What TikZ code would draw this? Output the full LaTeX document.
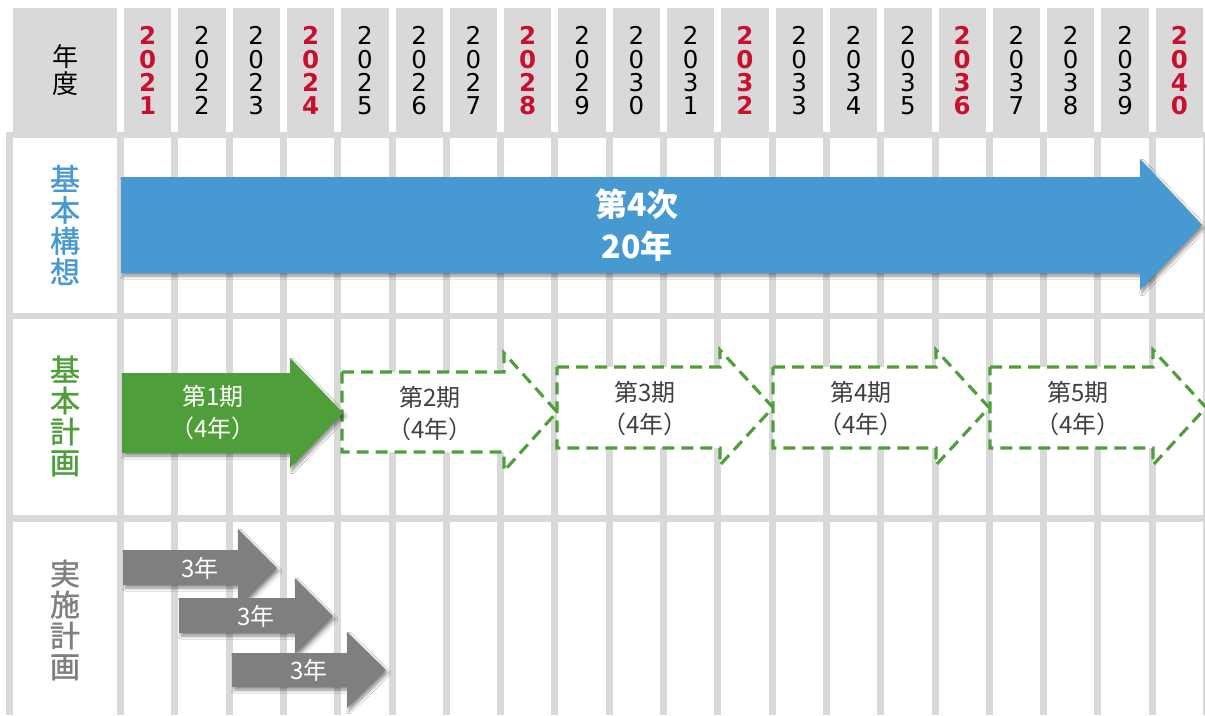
\documentclass[tikz,border=0pt]{standalone}
\usepackage{fontspec}
\setmainfont{Noto Sans CJK JP}
\newfontfamily\jpmed[FakeBold=1.2]{Noto Sans CJK JP}
\newfontfamily\digitfont{DejaVu Sans}
\usetikzlibrary{shadows.blur}
\definecolor{gridgray}{HTML}{D9D9D9}
\definecolor{planblue}{HTML}{4799D2}
\definecolor{plangreen}{HTML}{4E9F3A}
\definecolor{implgray}{HTML}{7F7F7F}
\definecolor{yearred}{HTML}{C8102E}
\definecolor{boxtext}{HTML}{404040}
\tikzset{
  cellfill/.style={fill=gridgray},
  whitecell/.style={fill=white},
  arrowshadow/.style={blur shadow={shadow xshift=2pt, shadow yshift=-3pt, shadow blur radius=3pt, shadow blur steps=8, shadow opacity=45}},
  dashedarrow/.style={draw=plangreen, line width=3.1pt, dash pattern=on 12pt off 7pt, fill=white, line join=miter},
  rowlabel/.style={font=\jpmed\fontsize{30}{31}\selectfont, align=center, inner sep=0pt},
  yeardigit/.style={anchor=base, inner sep=0pt, font=\digitfont\fontsize{24.5}{24.5}\selectfont\yweight},
  bigtext/.style={text=white, align=center, inner sep=0pt, font=\fontsize{32}{42}\selectfont\bfseries},
  phasetext/.style={align=center, inner sep=0pt, font=\fontsize{24}{32}\selectfont},
  yeartext/.style={text=white, inner sep=0pt, font=\fontsize{24}{24}\selectfont},
}
\begin{document}
\begin{tikzpicture}[x=1pt,y=-1pt]
\useasboundingbox (0,0) rectangle (1205,715);
\fill[white] (0,0) rectangle (1205,715);
% body grey background (grid lines)
\fill[cellfill] (6,132) rectangle (1205,715);
% header cells
\fill[cellfill] (13,8) rectangle (117,138);
\foreach \i in {0,...,19}
  \fill[cellfill] ({124+54.3*\i},8) rectangle ({171.3+54.3*\i},138);
% body white cells
\foreach \top/\bot in {138/312.5, 319/515, 522/716}{
  \fill[whitecell] (12.7,\top) rectangle (117,\bot);
  \foreach \i in {0,...,19}
    \fill[whitecell] ({124+54.3*\i},\top) rectangle ({171.3+54.3*\i},\bot);
}
% header texts
\node[font=\fontsize{26}{27}\selectfont, align=center, inner sep=0pt] (hdr) at (65,70) {年\\度};
\foreach \i in {0,...,19}{
  \pgfmathtruncatemacro\yr{2021+\i}
  \pgfmathtruncatemacro\tens{int((\yr-2000)/10)}
  \pgfmathtruncatemacro\ones{mod(\yr,10)}
  \pgfmathtruncatemacro\isred{(mod(\yr,4)==0)||(\yr==2021)}
  \ifnum\isred=1 \colorlet{yc}{yearred}\def\yweight{\bfseries}\else\colorlet{yc}{black}\def\yweight{}\fi
  \pgfmathsetmacro\cx{147.65+54.3*\i}
  \node[yeardigit, text=yc] (y\yr a) at (\cx,44.7) {2};
  \node[yeardigit, text=yc] (y\yr b) at (\cx,68) {0};
  \node[yeardigit, text=yc] (y\yr c) at (\cx,91.3) {\tens};
  \node[yeardigit, text=yc] (y\yr d) at (\cx,114.7) {\ones};
}
% row labels
\node[rowlabel, text=planblue] (lblA) at (65,225) {基\\本\\構\\想};
\node[rowlabel, text=plangreen] (lblB) at (65,416) {基\\本\\計\\画};
\node[rowlabel, text=implgray] (lblC) at (65,620) {実\\施\\計\\画};
% basic concept arrow
\fill[planblue, arrowshadow] (121,177) -- (1140,177) -- (1140,159) -- (1202,225) -- (1140,290) -- (1140,273) -- (121,273) -- cycle;
\node[bigtext] (t4) at (637,225) {第4次\\20年};
% basic plan arrows
\path[dashedarrow] (342,372) -- (504,372) -- (504,353) -- (557,412) -- (504,471) -- (504,452) -- (342,452) -- cycle;
\foreach \L/\n in {557/3, 773/4, 990/5}{
  \path[dashedarrow] (\L,367) -- ({\L+163},367) -- ({\L+163},350) -- ({\L+216},407.5) -- ({\L+163},465) -- ({\L+163},448) -- (\L,448) -- cycle;
  \node[phasetext, text=boxtext] (p\n) at ({\L+88},409) {第\n 期\\（4年）};
}
\node[phasetext, text=boxtext] (p2) at (430,414) {第2期\\（4年）};
\fill[plangreen, arrowshadow] (122,373) -- (290,373) -- (290,358) -- (343,413) -- (290,468) -- (290,453) -- (122,453) -- cycle;
\node[phasetext, text=white] (p1) at (213,413) {第1期\\（4年）};
% implementation plan arrows
\fill[implgray, arrowshadow] (123,550) -- (238,550) -- (238,529) -- (277,568) -- (238,607) -- (238,585) -- (123,585) -- cycle;
\node[yeartext] (i1) at (200,568) {3年};
\fill[implgray, arrowshadow] (179,598) -- (295,598) -- (295,578) -- (333,616) -- (295,654) -- (295,633) -- (179,633) -- cycle;
\node[yeartext] (i2) at (256,616) {3年};
\fill[implgray, arrowshadow] (232,653) -- (347,653) -- (347,632) -- (386,670) -- (347,708) -- (347,687) -- (232,687) -- cycle;
\node[yeartext] (i3) at (309,670) {3年};
\end{tikzpicture}
\end{document}
